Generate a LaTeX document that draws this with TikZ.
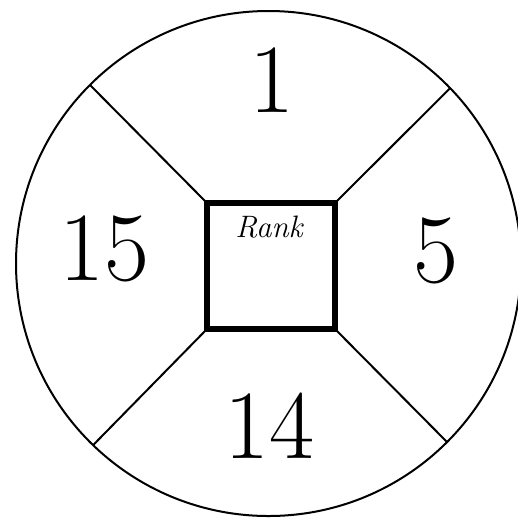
\documentclass[tikz,border=0pt]{standalone}
\usepackage{fontspec}
\begin{document}
\begin{tikzpicture}[x=1pt,y=-1pt,
  ring/.style={circle,draw,line width=2pt,minimum size=505pt,inner sep=0pt,outer sep=0pt},
  rankbox/.style={rectangle,draw,line width=5.5pt,minimum width=128pt,minimum height=126pt,inner sep=0pt,outer sep=0pt},
  divider/.style={line width=2pt},
  num/.style={inner sep=0pt,font=\fontsize{98}{98}\selectfont},
  lbl/.style={inner sep=0pt,font=\fontsize{31}{31}\selectfont\itshape}]
\useasboundingbox (0,0) rectangle (518,517);
\node[ring] (c) at (268.5,263.5) {};
\node[rankbox] (sq) at (271,266) {};
\draw[divider] (sq.north west) -- (c.135);
\draw[divider] (sq.north east) -- (c.44);
\draw[divider] (sq.south west) -- (c.-134);
\draw[divider] (sq.south east) -- (c.-45);
\node[lbl] (rank) at (269,227) {Rank};
\node[num] (n1) at (272,80.5) {1};
\node[num] (n15) at (104,249) {15};
\node[num] (n5) at (435.5,251) {5};
\node[num] (n14) at (269,425.5) {14};
\end{tikzpicture}
\end{document}
